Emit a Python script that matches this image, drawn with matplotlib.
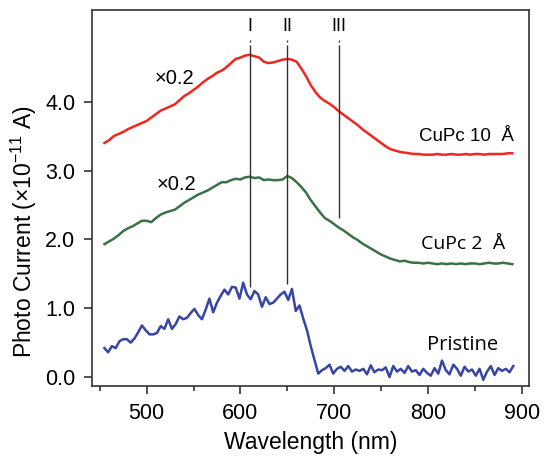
import numpy as np
import matplotlib
matplotlib.use("Agg")
import matplotlib.pyplot as plt

plt.rcParams['font.family'] = ['Liberation Sans', 'DejaVu Sans']
plt.rcParams['mathtext.fontset'] = 'custom'
plt.rcParams['mathtext.rm'] = 'Liberation Sans'

# CuPc 10 A (x0.2), 5 nm steps from 455 nm
red = [3.40, 3.44, 3.50, 3.53, 3.56, 3.60, 3.63, 3.66, 3.69, 3.72,
       3.77, 3.82, 3.87, 3.90, 3.93, 3.96, 4.02, 4.08, 4.12, 4.17,
       4.22, 4.28, 4.33, 4.37, 4.42, 4.45, 4.50, 4.56, 4.62, 4.64,
       4.67, 4.68, 4.66, 4.64, 4.58, 4.56, 4.57, 4.59, 4.61, 4.62,
       4.61, 4.58, 4.48, 4.37, 4.24, 4.14, 4.06, 4.01, 3.97, 3.92,
       3.86, 3.81, 3.76, 3.71, 3.66, 3.60, 3.55, 3.50, 3.45, 3.40,
       3.35, 3.31, 3.29, 3.27, 3.26, 3.25, 3.24, 3.24, 3.23, 3.23,
       3.23, 3.24, 3.23, 3.23, 3.24, 3.23, 3.23, 3.24, 3.23, 3.24,
       3.24, 3.23, 3.24, 3.24, 3.24, 3.24, 3.25, 3.25]

# CuPc 2 A (x0.2), 5 nm steps from 455 nm
green = [1.93, 1.97, 2.01, 2.06, 2.12, 2.16, 2.19, 2.23, 2.27, 2.27,
         2.25, 2.31, 2.36, 2.39, 2.41, 2.43, 2.48, 2.53, 2.57, 2.61,
         2.65, 2.68, 2.71, 2.75, 2.79, 2.83, 2.83, 2.86, 2.88, 2.87,
         2.90, 2.91, 2.89, 2.90, 2.86, 2.87, 2.86, 2.86, 2.87, 2.92,
         2.89, 2.83, 2.76, 2.68, 2.57, 2.48, 2.39, 2.31, 2.27, 2.22,
         2.17, 2.13, 2.08, 2.03, 1.99, 1.94, 1.90, 1.86, 1.82, 1.78,
         1.75, 1.72, 1.70, 1.68, 1.69, 1.67, 1.66, 1.66, 1.65, 1.66,
         1.65, 1.64, 1.65, 1.64, 1.65, 1.64, 1.65, 1.64, 1.65, 1.65,
         1.64, 1.65, 1.66, 1.65, 1.65, 1.66, 1.65, 1.64]

# Pristine, 4 nm steps from 455 nm
blue = [0.42, 0.36, 0.45, 0.42, 0.52, 0.55, 0.55, 0.50, 0.56, 0.65,
        0.75, 0.68, 0.62, 0.62, 0.64, 0.74, 0.70, 0.84, 0.70, 0.77,
        0.88, 0.84, 0.86, 0.93, 0.99, 0.90, 0.84, 0.98, 1.14, 0.94,
        1.08, 1.18, 1.27, 1.20, 1.31, 1.30, 1.14, 1.37, 1.20, 1.13,
        1.25, 1.20, 1.02, 1.16, 1.06, 1.08, 1.14, 1.20, 1.24, 1.12,
        1.28, 0.96, 1.04, 0.85, 0.68, 0.45, 0.25, 0.05, 0.10, 0.13,
        0.18, 0.05, 0.12, 0.15, 0.09, 0.16, 0.08, 0.11, 0.09, 0.12,
        0.04, 0.17, 0.07, 0.11, 0.10, 0.14, 0.00, 0.16, 0.08, 0.12,
        0.06, 0.16, 0.08, 0.10, 0.03, 0.12, 0.06, 0.02, 0.13, 0.05,
        0.24, 0.10, 0.04, 0.18, 0.12, 0.02, 0.15, 0.08, 0.11, 0.02,
        0.12, -0.04, 0.08, 0.16, 0.03, 0.13, 0.09, 0.12, 0.07, 0.16]

wl_cupc = 455 + 5 * np.arange(len(red))
wl_pris = 455 + 4 * np.arange(len(blue))

# marker lines I, II, III: position, bottom end
peak_names = ['I', 'II', 'III']
peak_wl = [610, 650, 705]
peak_bottom = [1.31, 1.35, 2.31]

fig = plt.figure(figsize=(5.44, 4.58), dpi=100)
ax = fig.add_axes([0.169, 0.157, 0.803, 0.821])

ax.plot(wl_cupc, red, color='#f0271f', lw=1.8)
ax.plot(wl_cupc, green, color='#3b7147', lw=1.8)
ax.plot(wl_pris, blue, color='#3645a6', lw=1.8)

for name, x, yb in zip(peak_names, peak_wl, peak_bottom):
    ax.vlines(x, yb, 4.83, color='#333333', lw=1.0)
    ax.vlines(x, 4.86, 4.89, color='#333333', lw=1.0)
    ax.text(x, 5.09, name, ha='center', va='center', fontsize=13)

ax.text(530, 4.34, '×0.2', ha='center', va='center', fontsize=14.5)
ax.text(532, 2.80, '×0.2', ha='center', va='center', fontsize=14.5)
ax.text(892, 3.50, 'CuPc 10  Å', ha='right', va='center', fontsize=13.5)
ax.text(882, 1.93, 'CuPc 2  Å', ha='right', va='center', fontsize=14,
        family=['Open Sans', 'DejaVu Sans'])
ax.text(875, 0.46, 'Pristine', ha='right', va='center', fontsize=14.5,
        family=['Open Sans', 'DejaVu Sans'])

ax.set_xlim(441.7, 907.5)
ax.set_ylim(-0.131, 5.33)
ax.set_xticks([500, 600, 700, 800, 900])
ax.set_xticks([450, 550, 650, 750, 850], minor=True)
ax.set_yticks([0, 1, 2, 3, 4])
ax.set_yticklabels(['0.0', '1.0', '2.0', '3.0', '4.0'])

for s in ax.spines.values():
    s.set_color('#333333')
    s.set_linewidth(1.2)
ax.tick_params(which='major', length=6, width=1.2, color='#333333',
               labelsize=15.5, pad=6)
ax.tick_params(which='minor', length=3.5, width=1.2, color='#333333')

ax.set_xlabel('Wavelength (nm)', fontsize=16.5)
ax.xaxis.set_label_coords(0.5, -0.12)
ax.set_ylabel(r'Photo Current (×10$^{\mathregular{-11}}$ A)', fontsize=16.5)
ax.yaxis.set_label_coords(-0.122, 0.41)

fig.savefig('out.png', dpi=100)
